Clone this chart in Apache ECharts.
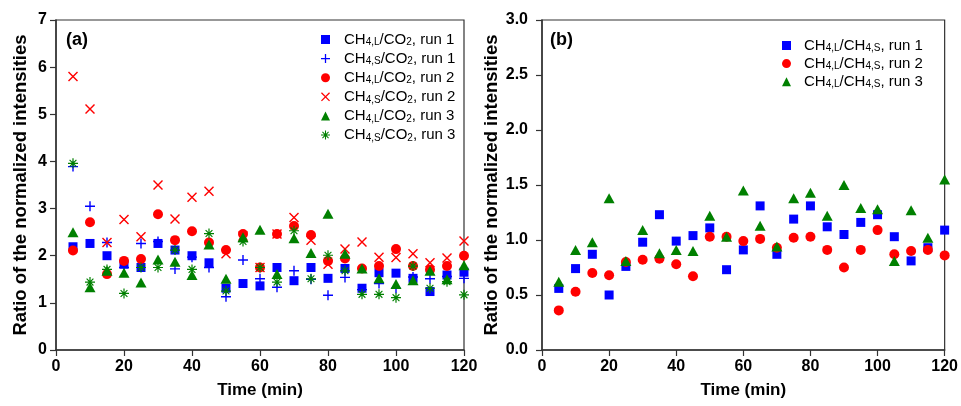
<!DOCTYPE html>
<html>
<head>
<meta charset="utf-8">
<script src="https://cdn.jsdelivr.net/npm/echarts@6/dist/echarts.min.js"></script>
<style>html,body{margin:0;padding:0;background:#fff;}#c{width:961px;height:406px;}</style>
</head>
<body>
<div id="c"></div>
<script>
// ---- Data ----
const time = [5,10,15,20,25,30,35,40,45,50,55,60,65,70,75,80,85,90,95,100,105,110,115,120];

// Panel (a)
const namesA = ['CH4,L/CO2, run 1','CH4,S/CO2, run 1','CH4,L/CO2, run 2','CH4,S/CO2, run 2','CH4,L/CO2, run 3','CH4,S/CO2, run 3'];
const aL1 = [2.19,2.26,2.00,1.82,1.75,2.26,2.12,2.00,1.85,1.31,1.41,1.36,1.75,1.47,1.75,1.52,1.73,1.31,1.64,1.63,1.52,1.24,1.59,1.65];
const aS1 = [3.89,3.05,2.28,1.75,2.26,2.30,1.72,1.97,1.75,1.13,1.91,1.51,1.33,1.68,1.50,1.16,1.54,1.28,1.41,1.31,1.55,1.51,1.56,1.52];
const aL2 = [2.11,2.71,1.61,1.89,1.93,2.88,2.33,2.52,2.28,2.12,2.46,1.75,2.46,2.63,2.44,1.89,1.94,1.73,1.78,2.14,1.78,1.70,1.78,2.00];
const aS2 = [5.80,5.11,2.28,2.77,2.40,3.50,2.78,3.24,3.37,2.04,2.42,1.75,2.46,2.81,2.33,1.82,2.14,2.29,1.97,1.96,2.04,1.85,1.95,2.31];
const aL3 = [2.50,1.33,1.68,1.64,1.43,1.92,1.87,1.59,2.24,1.51,2.39,2.55,1.61,2.37,2.06,2.89,2.04,1.73,1.52,1.40,1.48,1.68,1.50,1.80];
const aS3 = [3.96,1.44,1.71,1.20,1.75,1.75,2.12,1.71,2.47,1.25,2.30,1.75,1.44,2.53,1.51,2.01,1.68,1.18,1.18,1.11,1.78,1.31,1.45,1.17];

// Panel (b)
const namesB = ['CH4,L/CH4,S, run 1','CH4,L/CH4,S, run 2','CH4,L/CH4,S, run 3'];
const b1 = [0.56,0.74,0.87,0.50,0.76,0.98,1.23,0.99,1.04,1.11,0.73,0.91,1.31,0.87,1.19,1.31,1.12,1.05,1.16,1.23,1.03,0.81,0.93,1.09];
const b2 = [0.36,0.53,0.70,0.68,0.80,0.82,0.83,0.78,0.67,1.03,1.03,0.99,1.01,0.93,1.02,1.03,0.91,0.75,0.91,1.09,0.87,0.90,0.91,0.86];
const b3 = [0.62,0.91,0.98,1.38,0.81,1.09,0.88,0.91,0.90,1.22,1.03,1.45,1.13,0.94,1.38,1.43,1.22,1.50,1.29,1.28,0.81,1.27,1.02,1.55];

const xTicks = {min:0, max:120, interval:20};
const yTicksA = {min:0, max:7, interval:1};
const yTicksB = {min:0, max:3, interval:0.5};

// ---- Styles ----
const BLUE = '#0000FF', RED = '#FF0000', GREEN = '#008000';
const PLUS = 'path://M0,4.3L10,4.3L10,5.7L0,5.7Z M4.3,0L5.7,0L5.7,10L4.3,10Z';
const CROSS = 'path://M0,1L1,0L10,9L9,10Z M9,0L10,1L1,10L0,9Z';
const STAR = 'path://M0,4.4L10,4.4L10,5.6L0,5.6Z M4.4,0L5.6,0L5.6,10L4.4,10Z M1.2,2L2,1.2L8.8,8L8,8.8Z M8,1.2L8.8,2L2,8.8L1.2,8Z';
const FONT = 'Liberation Sans';
const AX = '#333';

function pairs(v){ return time.map((t,i)=>[t, v[i]]); }
function fmt(name){
  return '{g|}{n|' + name.replace(/(4,[LS])/g, '}{s|$1}{n|').replace(/O2/g, 'O}{s|2}{n|') + '}';
}
function richFor(gap){
  return {
    g:{width:gap, height:1},
    n:{fontSize:15, fontFamily:FONT, color:'#000', lineHeight:16},
    s:{fontSize:10, fontFamily:FONT, color:'#000', lineHeight:8, verticalAlign:'bottom'}
  };
}

function xAxisCfg(gi){
  return {type:'value', gridIndex:gi, min:xTicks.min, max:xTicks.max, interval:xTicks.interval,
    name:'Time (min)', nameLocation:'middle', nameGap:32,
    nameTextStyle:{fontFamily:FONT, fontWeight:'bold', fontSize:17, color:'#000'},
    axisLine:{show:true, onZero:false, lineStyle:{color:AX, width:1.5}},
    axisTick:{show:true, inside:false, length:6, lineStyle:{color:AX, width:1.2}},
    axisLabel:{fontFamily:FONT, fontWeight:'bold', fontSize:16, color:'#000', margin:9},
    splitLine:{show:false}};
}
function yAxisCfg(gi, t, dec, gap, margin){
  return {type:'value', gridIndex:gi, min:t.min, max:t.max, interval:t.interval,
    name:'Ratio of the normalized intensities', nameLocation:'middle', nameGap:gap,
    nameTextStyle:{fontFamily:FONT, fontWeight:'bold', fontSize:18.5, color:'#000'},
    axisLine:{show:true, onZero:false, lineStyle:{color:AX, width:1.5}},
    axisTick:{show:true, inside:false, length:6, lineStyle:{color:AX, width:1.2}},
    axisLabel:{fontFamily:FONT, fontWeight:'bold', fontSize:16, color:'#000', margin:margin,
      formatter: v => v.toFixed(dec)},
    splitLine:{show:false}};
}
function sc(name, data, xi, sym, size, color){
  return {type:'scatter', name:name, xAxisIndex:xi, yAxisIndex:xi, data:pairs(data),
    symbol:sym, symbolSize:size, itemStyle:{color:color, opacity:1}, emphasis:{disabled:true}};
}

const option = {
  animation:false,
  backgroundColor:'#fff',
  grid:[
    {left:56, top:20, width:408, height:330, show:true, borderColor:AX, borderWidth:1.2},
    {left:542, top:20, width:405, height:330, show:true, borderColor:AX, borderWidth:1.2}
  ],
  xAxis:[xAxisCfg(0), xAxisCfg(1)],
  yAxis:[yAxisCfg(0, yTicksA, 0, 26, 9), yAxisCfg(1, yTicksB, 1, 33, 14)],
  legend:[
    {data:namesA, orient:'vertical', left:316, top:27, itemWidth:9, itemHeight:9, itemGap:3.6,
      formatter:fmt, textStyle:{rich:richFor(9)}, selectedMode:false},
    {data:namesB, orient:'vertical', left:777, top:33, itemWidth:9, itemHeight:9, itemGap:2.6,
      formatter:fmt, textStyle:{rich:richFor(8)}, selectedMode:false}
  ],
  graphic:[
    {type:'text', left:66, top:31, style:{text:'(a)', font:'bold 18px "Liberation Sans"', fill:'#000'}},
    {type:'text', left:550, top:31, style:{text:'(b)', font:'bold 18px "Liberation Sans"', fill:'#000'}}
  ],
  series:[
    sc(namesA[0], aL1, 0, 'rect', 9, BLUE),
    sc(namesA[1], aS1, 0, PLUS, 10, BLUE),
    sc(namesA[2], aL2, 0, 'circle', 10, RED),
    sc(namesA[3], aS2, 0, CROSS, 10, RED),
    sc(namesA[4], aL3, 0, 'triangle', [11,10], GREEN),
    sc(namesA[5], aS3, 0, STAR, 10, GREEN),
    sc(namesB[0], b1, 1, 'rect', 9, BLUE),
    sc(namesB[1], b2, 1, 'circle', 10, RED),
    sc(namesB[2], b3, 1, 'triangle', [11,10], GREEN)
  ]
};
const chart = echarts.init(document.getElementById('c'), null, {renderer:'canvas'});
chart.setOption(option);
</script>
</body>
</html>
